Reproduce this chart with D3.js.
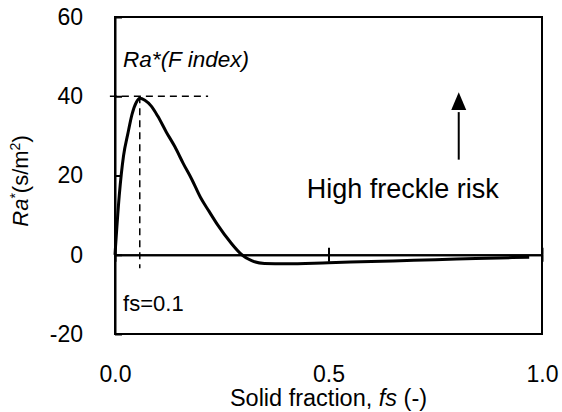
<!DOCTYPE html>
<html>
<head>
<meta charset="utf-8">
<script src="https://cdn.jsdelivr.net/npm/d3@7"></script>
<style>
  body { margin: 0; background: #fff; }
  text { font-family: "Liberation Sans", Arial, sans-serif; fill: #000; }
</style>
</head>
<body>
<div class="chart"></div>
<script>
// curve: solid fraction vs Ra*
let fsValues = [0, 0.01, 0.02, 0.03, 0.04, 0.05, 0.058, 0.07, 0.085, 0.1, 0.12, 0.14, 0.16, 0.18, 0.2, 0.22, 0.24, 0.27, 0.297, 0.32, 0.35, 0.4, 0.5, 0.6, 0.7, 0.8, 0.9, 0.97];
let raValues = [0, 15, 25, 30.5, 35.5, 38.5, 39.5, 39, 37.5, 35, 31, 27.3, 23, 19, 14.5, 11, 7.6, 3.2, 0, -1.5, -2.2, -2.3, -2.0, -1.7, -1.4, -1.1, -0.8, -0.6];

let xTicks = [0, 0.5, 1.0];
let yTicks = [-20, 0, 20, 40, 60];

// F index marker
let peakFs = 0.058;
let peakRa = 40;

let margin = { top: 17, right: 20, bottom: 78, left: 115 };
let width = 562 - margin.left - margin.right;
let height = 412 - margin.top - margin.bottom;

let svg = d3.select(".chart").append("svg")
    .attr("width", 562)
    .attr("height", 412);

let plot = svg.append("g")
    .attr("transform", `translate(${margin.left},${margin.top})`);

let xScale = d3.scaleLinear().domain([0, 1]).range([0, width]);
let yScale = d3.scaleLinear().domain([-20, 60]).range([height, 0]);

// frame
plot.append("rect")
    .attr("x", 0).attr("y", 0)
    .attr("width", width).attr("height", height)
    .attr("fill", "none")
    .attr("stroke", "#000")
    .attr("stroke-width", 2);

// y axis: inside ticks, labels on the left
let yAxis = plot.append("g")
    .call(d3.axisLeft(yScale).tickValues(yTicks).tickSizeInner(-7).tickSizeOuter(0).tickPadding(32).tickFormat(d => String(d)));
yAxis.select(".domain").attr("stroke-width", 2);
yAxis.selectAll(".tick line").attr("stroke-width", 2);
yAxis.selectAll("text").style("font-size", "23px");

// x axis through zero with crossing ticks
let zeroY = yScale(0);
let xAxisDown = plot.append("g")
    .attr("transform", `translate(0,${zeroY})`)
    .call(d3.axisBottom(xScale).tickValues(xTicks).tickSizeInner(7).tickSizeOuter(0).tickFormat(""));
let xAxisUp = plot.append("g")
    .attr("transform", `translate(0,${zeroY})`)
    .call(d3.axisTop(xScale).tickValues(xTicks).tickSizeInner(7).tickSizeOuter(0).tickFormat(""));
[xAxisDown, xAxisUp].forEach(a => {
    a.select(".domain").attr("stroke-width", 2);
    a.selectAll(".tick line").attr("stroke-width", 2);
});

// x labels sit below the frame
let xLabels = plot.append("g")
    .attr("transform", `translate(0,${height})`)
    .call(d3.axisBottom(xScale).tickValues(xTicks).tickSize(0).tickPadding(32).tickFormat(d3.format(".1f")));
xLabels.select(".domain").remove();
xLabels.selectAll("text").style("font-size", "23px");

// dashed guide lines for the peak
plot.append("line")
    .attr("x1", xScale(-0.012)).attr("x2", xScale(0.218))
    .attr("y1", yScale(peakRa)).attr("y2", yScale(peakRa))
    .attr("stroke", "#000").attr("stroke-width", 1.5)
    .attr("stroke-dasharray", "7,5");
plot.append("line")
    .attr("x1", xScale(peakFs)).attr("x2", xScale(peakFs))
    .attr("y1", yScale(peakRa)).attr("y2", yScale(-3.4))
    .attr("stroke", "#000").attr("stroke-width", 1.5)
    .attr("stroke-dasharray", "7,5");

// the curve
let line = d3.line()
    .x((d, i) => xScale(fsValues[i]))
    .y(d => yScale(d))
    .curve(d3.curveMonotoneX);

plot.append("path")
    .datum(raValues)
    .attr("d", line)
    .attr("fill", "none")
    .attr("stroke", "#000")
    .attr("stroke-width", 3);

// annotations
plot.append("text")
    .attr("x", xScale(0.019)).attr("y", yScale(47.3))
    .style("font-size", "22.5px")
    .style("font-style", "italic")
    .text("Ra*(F index)");

plot.append("text")
    .attr("x", xScale(0.019)).attr("y", yScale(-14.2))
    .style("font-size", "22px")
    .text("fs=0.1");

plot.append("text")
    .attr("x", xScale(0.449)).attr("y", yScale(14.3))
    .style("font-size", "27px")
    .text("High freckle risk");

// arrow pointing up
let arrowX = xScale(0.805);
plot.append("line")
    .attr("x1", arrowX).attr("x2", arrowX)
    .attr("y1", yScale(24)).attr("y2", yScale(36))
    .attr("stroke", "#000").attr("stroke-width", 2);
plot.append("path")
    .attr("d", `M${arrowX - 7.5},${yScale(36.5)} L${arrowX},${yScale(41)} L${arrowX + 7.5},${yScale(36.5)} Z`)
    .attr("fill", "#000");

// axis titles
let xTitle = svg.append("text")
    .attr("x", margin.left + width / 2)
    .attr("y", 406)
    .attr("text-anchor", "middle")
    .style("font-size", "23.5px");
xTitle.append("tspan").text("Solid fraction, ");
xTitle.append("tspan").style("font-style", "italic").text("fs");
xTitle.append("tspan").text(" (-)");

let yTitle = svg.append("text")
    .attr("transform", "translate(28,181) rotate(-90)")
    .attr("text-anchor", "middle")
    .style("font-size", "22px");
yTitle.append("tspan").style("font-style", "italic").text("Ra");
yTitle.append("tspan").attr("dy", -8).style("font-size", "14px").text("*");
yTitle.append("tspan").attr("dy", 8).text("(s/m");
yTitle.append("tspan").attr("dy", -8).style("font-size", "14px").text("2");
yTitle.append("tspan").attr("dy", 8).text(")");
</script>
</body>
</html>
